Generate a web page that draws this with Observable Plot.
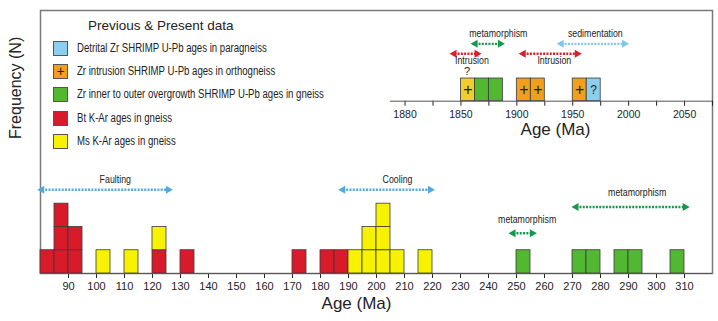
<!DOCTYPE html>
<html>
<head>
<meta charset="utf-8">
<script src="https://cdn.jsdelivr.net/npm/d3@7"></script>
<script src="https://cdn.jsdelivr.net/npm/@observablehq/plot@0.6"></script>
<style>
  html, body { margin: 0; padding: 0; background: #fff; }
  #wrap { position: relative; width: 718px; height: 321px; overflow: hidden; font-family: "Liberation Sans", Arial, sans-serif; }
  #wrap > svg { position: absolute; left: 0; top: 0; }
  #legend { position: absolute; left: 0; top: 0; width: 330px; height: 160px; }
  #legend .title { position: absolute; left: 88px; top: 18px; font-size: 13.5px; color: #222; white-space: nowrap; }
  #legend .row { position: absolute; left: 53px; height: 15px; white-space: nowrap; }
  #legend .sw { position: absolute; left: 0; top: 0; width: 15px; height: 15px; border: 0.8px solid #555; box-sizing: border-box; font-size: 14px; line-height: 13px; text-align: center; color: #222; }
  #legend .lab { position: absolute; left: 24px; top: 0; font-size: 12px; line-height: 15px; color: #222; transform: scaleX(0.8); transform-origin: 0 50%; }
</style>
</head>
<body>
<div id="wrap"></div>
<script>
// ---------------- data ----------------
const seriesNames = ["Bt K-Ar", "Ms K-Ar", "Zr overgrowth", "Zr intrusion", "Zr intrusion?", "Detrital Zr"];
const seriesColors = ["#d81b2b", "#f7f200", "#52b731", "#f0a01c", "#f2cd2e", "#8ccdf0"];

// main histogram (5 Ma bins): bin start + count
const binWidth = 5;
const btBins = [80, 85, 90, 120, 130, 170, 180, 185];
const btCounts = [1, 3, 2, 1, 1, 1, 1, 1];
const msBins = [100, 110, 120, 190, 195, 200, 205, 215];
const msCounts = [1, 1, 1, 1, 2, 3, 1, 1];
const zrBins = [250, 270, 275, 285, 290, 305];
const zrCounts = [1, 1, 1, 1, 1, 1];
const mainTicks = [90, 100, 110, 120, 130, 140, 150, 160, 170, 180, 190, 200, 210, 220, 230, 240, 250, 260, 270, 280, 290, 300, 310];

// main annotations
const mainArrowStart = [80.5, 188, 248.8, 271.3];
const mainArrowEnd = [125.6, 219.2, 255.6, 310.2];
const mainArrowLevel = [3.6, 3.6, 1.73, 2.86];
const mainArrowKind = ["Faulting", "Cooling", "metamorphism", "metamorphism"];
const mainLabels = ["Faulting", "Cooling", "metamorphism", "metamorphism"];
const mainLabelX = [106.7, 207.5, 253.8, 293.1];
const mainLabelLevel = [4.05, 4.05, 2.33, 3.49];

// inset (12.5 Ma bins)
const insetBinWidth = 12.5;
const insetBins = [1850, 1862.5, 1875, 1900, 1912.5, 1950, 1962.5];
const insetSeries = ["Zr intrusion?", "Zr overgrowth", "Zr overgrowth", "Zr intrusion", "Zr intrusion", "Zr intrusion", "Detrital Zr"];
const insetTicks = [1800, 1825, 1850, 1875, 1900, 1925, 1950, 1975, 2000, 2025, 2050, 2075];
const insetTickLabels = ["1880", "", "1850", "", "1900", "", "1950", "", "2000", "", "2050", ""];
const insetArrowStart = [1862.8, 1939.8, 1844, 1905.8];
const insetArrowEnd = [1885.2, 1996.2, 1864.3, 1953.9];
const insetArrowLevel = [2.53, 2.53, 2.09, 2.09];
const insetArrowKind = ["metamorphism", "sedimentation", "Intrusion", "Intrusion"];
const insetLabels = ["metamorphism", "sedimentation", "Intrusion", "Intrusion"];
const insetLabelX = [1883.4, 1970.2, 1859.8, 1933.5];
const insetLabelLevel = [2.97, 2.97, 1.78, 1.78];
const insetQuery = ["?"];
const insetQueryX = [1855.4];
const insetQueryLevel = [1.3];

// legend
const legendTitle = "Previous & Present data";
const legendSeries = ["Detrital Zr", "Zr intrusion", "Zr overgrowth", "Bt K-Ar", "Ms K-Ar"];
const legendLabels = [
  "Detrital Zr SHRIMP U-Pb ages in paragneiss",
  "Zr intrusion SHRIMP U-Pb ages in orthogneiss",
  " Zr inner to outer overgrowth SHRIMP U-Pb ages in gneiss",
  "Bt K-Ar ages in gneiss",
  "Ms K-Ar ages in gneiss"
];
const yTitle = "Frequency (N)";
const xTitle = "Age (Ma)";

// ---------------- styles ----------------
const kindColor = {Faulting: "#52aadf", Cooling: "#52aadf", sedimentation: "#80c6ec", metamorphism: "#14994a", Intrusion: "#d8202c"};
const colorOf = name => seriesColors[seriesNames.indexOf(name)];
const baseFont = "Liberation Sans, Arial, sans-serif";
const narrowFont = "Liberation Sans, Arimo, Arial, sans-serif"; // condensed after layout

// ---------------- build cells ----------------
const cells = [];
const levelAt = new Map();
for (const [series, bins, counts] of [["Bt K-Ar", btBins, btCounts], ["Ms K-Ar", msBins, msCounts], ["Zr overgrowth", zrBins, zrCounts]]) {
  bins.forEach((b, i) => {
    for (let k = 0; k < counts[i]; k++) {
      const lvl = levelAt.get(b) || 0;
      cells.push({series, x1: b, x2: b + binWidth, y1: lvl, y2: lvl + 1});
      levelAt.set(b, lvl + 1);
    }
  });
}
const mainArrows = mainArrowStart.map((s, i) => ({s, e: mainArrowEnd[i], y: mainArrowLevel[i], kind: mainArrowKind[i]}));
const mainTexts = mainLabels.map((t, i) => ({t, x: mainLabelX[i], y: mainLabelLevel[i]}));
const insetCells = insetBins.map((b, i) => ({series: insetSeries[i], x1: b, x2: b + insetBinWidth, y1: 0, y2: 1, xc: b + insetBinWidth / 2}));
const insetArrows = insetArrowStart.map((s, i) => ({s, e: insetArrowEnd[i], y: insetArrowLevel[i], kind: insetArrowKind[i]}));
const insetTexts = insetLabels.map((t, i) => ({t, x: insetLabelX[i], y: insetLabelLevel[i]}));
const insetQ = insetQuery.map((t, i) => ({t, x: insetQueryX[i], y: insetQueryLevel[i]}));

function arrowMarks(arrows) {
  return [
    Plot.link(arrows, {x1: "s", x2: "e", y1: "y", y2: "y", stroke: d => kindColor[d.kind], strokeWidth: 2.4, strokeDasharray: "2,1.3"}),
    Plot.dot(arrows, {x: "s", y: "y", symbol: "triangle", r: 3, rotate: -90, fill: d => kindColor[d.kind], stroke: "none"}),
    Plot.dot(arrows, {x: "e", y: "y", symbol: "triangle", r: 3, rotate: 90, fill: d => kindColor[d.kind], stroke: "none"})
  ];
}

// ---------------- main plot ----------------
const main = Plot.plot({
  width: 718, height: 321,
  marginLeft: 40, marginRight: 6, marginTop: 10, marginBottom: 48,
  style: {fontFamily: baseFont, fontSize: "11px", color: "#222", background: "white"},
  x: {domain: [80, 320], ticks: mainTicks, tickSize: 5, tickPadding: 4, label: null},
  y: {domain: [0, 11.3], axis: null},
  color: {domain: seriesNames, range: seriesColors},
  marks: [
    Plot.frame({stroke: "#7a7a7a", strokeWidth: 1.5}),
    Plot.rect(cells, {x1: "x1", x2: "x2", y1: "y1", y2: "y2", fill: "series", stroke: "#3a3a3a", strokeWidth: 0.8}),
    Plot.ruleY([0], {stroke: "#555", strokeWidth: 1}),
    ...arrowMarks(mainArrows),
    Plot.text(mainTexts, {x: "x", y: "y", text: "t", fontSize: 11, fontFamily: narrowFont, fill: "#222"}),
    Plot.text([yTitle], {frameAnchor: "left", dx: -25, dy: -3, rotate: -90, fontSize: 16, fill: "#222"}),
    Plot.text([xTitle], {frameAnchor: "bottom", dx: -20, dy: 35, fontSize: 17, fill: "#222"})
  ]
});

// ---------------- inset plot ----------------
const inset = Plot.plot({
  width: 718, height: 150,
  marginLeft: 390, marginRight: 6, marginTop: 10, marginBottom: 49.3,
  style: {fontFamily: baseFont, fontSize: "10.5px", color: "#222", background: "transparent"},
  x: {domain: [1787, 2075], ticks: insetTicks, tickFormat: d => insetTickLabels[insetTicks.indexOf(d)], tickSize: 5, tickPadding: 4, label: null},
  y: {domain: [0, 4], axis: null},
  color: {domain: seriesNames, range: seriesColors},
  marks: [
    Plot.rect(insetCells, {x1: "x1", x2: "x2", y1: "y1", y2: "y2", fill: "series", stroke: "#3a3a3a", strokeWidth: 0.8}),
    Plot.text(insetCells.filter(d => d.series.startsWith("Zr intrusion")), {x: "xc", y: 0.5, text: () => "+", fontSize: 16, fontWeight: 300, fill: "#222"}),
    Plot.text(insetCells.filter(d => d.series === "Detrital Zr"), {x: "xc", y: 0.5, text: () => "?", fontSize: 12, fill: "#222"}),
    Plot.ruleY([0], {stroke: "#555", strokeWidth: 1}),
    ...arrowMarks(insetArrows),
    Plot.text(insetTexts, {x: "x", y: "y", text: "t", fontSize: 11, fontFamily: narrowFont, fill: "#222"}),
    Plot.text(insetQ, {x: "x", y: "y", text: "t", fontSize: 11, fill: "#222"}),
    Plot.text([xTitle], {frameAnchor: "bottom", dx: 4, dy: 34, fontSize: 17, fill: "#222"})
  ]
});

const wrap = document.getElementById("wrap");
wrap.appendChild(main);
wrap.appendChild(inset);

// condense annotation texts (narrow typeface look), keeping their anchor position
for (const svg of [main, inset]) {
  for (const t of svg.querySelectorAll(`g[font-family="${narrowFont}"] text`)) {
    const len = t.getComputedTextLength();
    if (len > 0) {
      t.setAttribute("textLength", (len * 0.8).toFixed(1));
      t.setAttribute("lengthAdjust", "spacingAndGlyphs");
    }
  }
}

// ---------------- legend ----------------
const legend = document.createElement("div");
legend.id = "legend";
const title = document.createElement("div");
title.className = "title";
title.textContent = legendTitle;
legend.appendChild(title);
legendSeries.forEach((s, i) => {
  const row = document.createElement("div");
  row.className = "row";
  row.style.top = (41 + i * 23.2) + "px";
  const sw = document.createElement("div");
  sw.className = "sw";
  sw.style.background = colorOf(s);
  if (s === "Zr intrusion") sw.textContent = "+";
  const lab = document.createElement("div");
  lab.className = "lab";
  lab.textContent = legendLabels[i];
  row.appendChild(sw);
  row.appendChild(lab);
  legend.appendChild(row);
});
wrap.appendChild(legend);
</script>
</body>
</html>
